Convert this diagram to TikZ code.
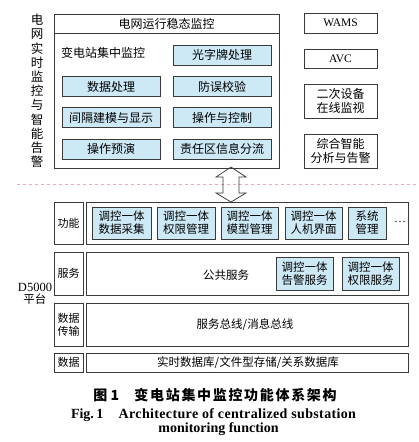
\documentclass[tikz,border=0pt]{standalone}
\usepackage{fontspec}
\setmainfont{Liberation Serif}
\newfontfamily\cjk{Noto Sans CJK SC}
\usetikzlibrary{backgrounds,positioning}
\definecolor{Ink}{HTML}{3A3A3A}
\definecolor{Sky}{HTML}{CDE9F6}
\definecolor{Band}{HTML}{C4C4C4}
\definecolor{Blush}{HTML}{F2A7B8}

\tikzset{
  frame/.style={draw=Ink,line width=0.7pt,inner sep=0pt},
  cell/.style={frame,fill=Sky,minimum width=98pt,minimum height=20pt},
  sidebox/.style={frame,minimum width=73pt,align=center},
  layerlabel/.style={frame,minimum width=29pt,align=center,font=\cjk\fontsize{11}{13}\selectfont},
  layerbody/.style={frame,minimum width=322pt},
  unit/.style={frame,fill=Sky,minimum width=57pt,minimum height=32pt,align=center,font=\cjk\fontsize{11.5}{13}\selectfont},
}

\begin{document}
\begin{tikzpicture}[x=1pt,y=-1pt,font=\cjk\fontsize{12}{14}\selectfont]
    \path[use as bounding box,fill=white] (0,0) rectangle (419,442);

    % grid monitoring part
    \node[align=center,font=\cjk\fontsize{12.5}{14.2}\selectfont] (sideTitle) at (37,91)
      {电\\网\\实\\时\\监\\控\\与\\智\\能\\告\\警};
    \node[frame,minimum width=225pt,minimum height=154pt] (gridBox) at (166.5,91) {};
    \node[minimum width=225pt,minimum height=19pt] (gridTitle) at (166.5,23.5) {电网运行稳态监控};
    \draw[Ink,line width=0.7pt] (gridBox.west |- gridTitle.south) -- (gridBox.east |- gridTitle.south);
    \node (substation) at (103,53) {变电站集中监控};
    \node[cell] (signal) at (222,55) {光字牌处理};
    \node[cell] (dataProc) at (111,86.5) {数据处理};
    \node[cell] (misop) at (222,86.5) {防误校验};
    \node[cell] (bayModel) at (111,117.5) {间隔建模与显示};
    \node[cell] (operate) at (222,117.5) {操作与控制};
    \node[cell] (rehearse) at (111,149) {操作预演};
    \node[cell] (zoneInfo) at (222,149) {责任区信息分流};

    \node[sidebox,minimum height=20pt,font=\fontsize{11.5}{13}\selectfont] (wams) at (340.5,23) {WAMS};
    \node[sidebox,minimum height=19pt,font=\fontsize{11.5}{13}\selectfont] (avc) at (340.5,58.5) {AVC};
    \node[sidebox,minimum height=34pt] (secondary) at (340.5,101) {二次设备\\在线监视};
    \node[sidebox,minimum height=34pt] (analysis) at (340.5,151) {综合智能\\分析与告警};

    % separation
    \coordinate (cutL) at (17,184);
    \coordinate (cutR) at (419,184);
    \draw[Blush,dashed,line width=0.6pt] (cutL) -- (cutR);

    % D5000 platform
    \node[align=center,font=\fontsize{12.5}{12}\selectfont] (platform) at (35,293.5)
      {D5000\\{\cjk\fontsize{11.5}{12}\selectfont 平台}};

    \node[layerlabel,minimum height=42pt] (fnLabel) at (68.5,223) {功能};
    \node[layerbody,minimum height=42pt] (fnLayer) at (247,223) {};
    \node[layerlabel,minimum height=43pt] (svLabel) at (68.5,273.5) {服务};
    \node[layerbody,minimum height=43pt] (svLayer) at (247,273.5) {};
    \node[layerlabel,minimum height=43pt] (txLabel) at (68.5,324.5) {数据\\传输};
    \node[layerbody,minimum height=43pt] (txLayer) at (247,324.5) {};
    \node[layerlabel,minimum height=19pt] (dbLabel) at (68.5,362.5) {数据};
    \node[layerbody,minimum height=19pt] (dbLayer) at (247,362.5) {};
    \begin{scope}[on background layer]
      \foreach \row in {fn,sv,tx,db}
        \fill[Band] (\row Label.north east) rectangle (\row Layer.south west);
    \end{scope}

    \node[unit,minimum width=59pt] (acquire) at (121.5,223) {调控一体\\数据采集};
    \node[unit,minimum width=58pt] (rights) at (186,223) {调控一体\\权限管理};
    \node[unit] (model) at (249.5,223) {调控一体\\模型管理};
    \node[unit] (hmi) at (313.5,223) {调控一体\\人机界面};
    \node[unit,minimum width=38pt] (sysMgmt) at (367,223) {系统\\管理};
    \node[font=\fontsize{12}{13}\selectfont] (more) at (400,222) {\dots};

    \node[font=\cjk\fontsize{11.5}{13}\selectfont] (common) at (226,275) {公共服务};
    \node[unit,minimum height=33pt] (alarmSv) at (304.5,273.5) {调控一体\\告警服务};
    \node[unit,minimum height=33pt] (rightSv) at (370.5,273.5) {调控一体\\权限服务};

    \node[font=\cjk\fontsize{11.5}{13}\selectfont] (bus) at (245,325) {服务总线/消息总线};
    \node[font=\cjk\fontsize{11.5}{13}\selectfont] (store) at (248,362.5) {实时数据库/文件型存储/关系数据库};

    % link between the two parts
    \coordinate (linkTop) at (231,167);
    \coordinate (linkBot) at (231,202);
    \draw[Ink,line width=0.7pt] (linkTop) -- ++(15,10) -- ++(-7,0) -- ++(0,16) -- ++(7,0)
      -- (linkBot) -- ++(-15,-9) -- ++(7,0) -- ++(0,-16) -- ++(-7,0) -- cycle;

    % caption
    \node[anchor=base,font=\cjk\bfseries\fontsize{14}{16}\selectfont] (capZh) at (215,400)
      {图 1\hspace{1.1em}{\addfontfeature{LetterSpace=12}变电站集中监控功能体系架构}};
    \node[anchor=base,font=\bfseries\fontsize{14}{16}\selectfont] (capEnA) at (213.5,418)
      {Fig.\,1\hspace{1.1em}{\addfontfeature{LetterSpace=2.5}Architecture of centralized substation}};
    \node[anchor=base,font=\bfseries\fontsize{14}{16}\selectfont] (capEnB) at (218.5,432)
      {monitoring function};
\end{tikzpicture}
\end{document}
